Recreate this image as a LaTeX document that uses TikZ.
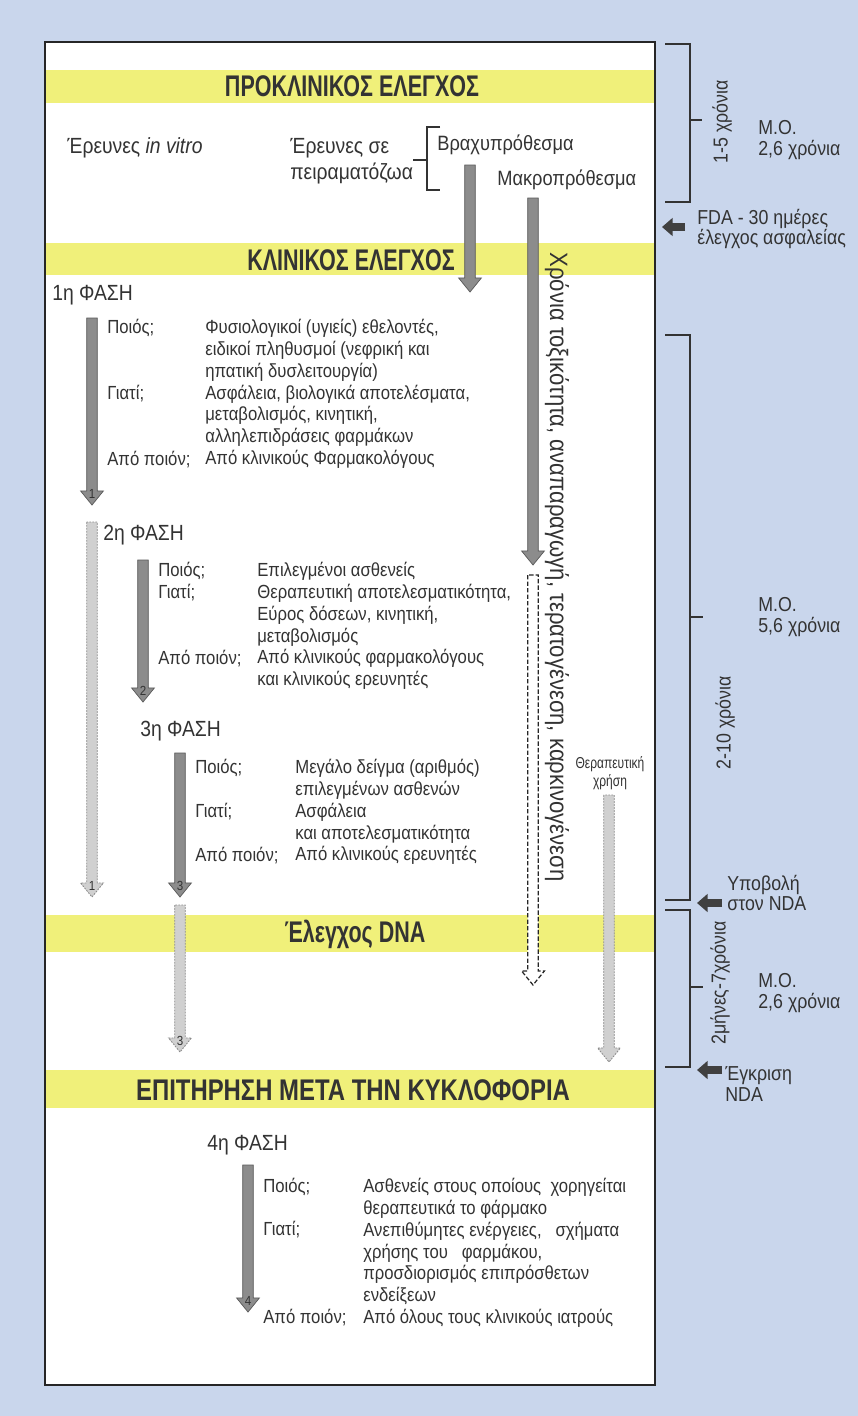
\documentclass[tikz,border=0pt]{standalone}
\usepackage{fontspec}
\setmainfont{Liberation Sans}[FakeStretch=0.88]
\newfontfamily\headfont{Liberation Sans}[FakeStretch=0.72]
\newfontfamily\headwide{Liberation Sans}[FakeStretch=0.80]
\newfontfamily\smallfont{Liberation Sans}[FakeStretch=0.76]
\usetikzlibrary{calc,arrows.meta}

\definecolor{bgblue}{RGB}{201,214,236}
\definecolor{bandyellow}{RGB}{240,240,122}
\definecolor{ink}{RGB}{51,51,51}
\definecolor{shaftgray}{RGB}{140,140,140}
\definecolor{palegray}{RGB}{208,208,208}

\newcommand{\bodyfs}{\fontsize{10.8}{12.4}\selectfont}
\newcommand{\phasefs}{\fontsize{12.5}{14}\selectfont}
\newcommand{\titlefs}{\headfont\bfseries\fontsize{17}{19}\selectfont}
\newcommand{\sidefs}{\fontsize{11.5}{11.5}\selectfont}

\begin{document}
\begin{tikzpicture}[x=0.02cm, y=-0.02cm,
    title/.style={font=\titlefs, text=ink, inner sep=0pt},
    phase/.style={font=\phasefs, text=ink, anchor=west, inner sep=0pt},
    lbl/.style={font=\bodyfs, text=ink, anchor=north west, inner sep=0pt},
    txt/.style={font=\bodyfs, text=ink, anchor=north west, inner sep=0pt, align=left},
    side/.style={font=\sidefs, text=ink, anchor=west, inner sep=0pt, align=left},
    turned/.style={font=\sidefs, text=ink, rotate=90, inner sep=0pt},
    num/.style={font=\fontsize{7.5}{8}\selectfont, text=black!80, inner sep=0pt},
    brk/.style={draw=ink, line width=0.9pt},
    fat/.style={to path={let \p1=(\tikztostart), \p2=(\tikztotarget) in
        (\x1-3pt,\y1) -- (\x1-3pt,\y2+8pt) -- (\x1-6.5pt,\y2+8pt) -- (\x1,\y2)
        -- (\x1+6.5pt,\y2+8pt) -- (\x1+3pt,\y2+8pt) -- (\x1+3pt,\y1) -- cycle}},
    solidarr/.style={fat, fill=shaftgray, draw=black!65, line width=0.4pt},
    lightarr/.style={fat, fill=palegray, draw=black!45, line width=0.5pt, dash pattern=on 1pt off 0.7pt},
    hollowarr/.style={fat, fill=white, draw=black!85, line width=0.7pt, dash pattern=on 2.5pt off 1.2pt},
    leftarr/.style={draw=black!75, line width=4pt, -{Triangle[length=6pt,width=10pt]}}]

  % background, frame and bands
  \fill[bgblue] (0,0) rectangle (858,1416);
  \useasboundingbox (0,0) rectangle (858,1416);
  \draw[fill=white, draw=black!85, line width=1.2pt] (45,42) rectangle (655,1385);
  \foreach \ya/\yb in {70/103, 243/275, 915/952, 1070/1108} {
    \fill[bandyellow] (46,\ya) rectangle (654,\yb);
  }

  \node[title] (preclin) at (352,86)  {ΠΡΟΚΛΙΝΙΚΟΣ ΕΛΕΓΧΟΣ};
  \node[title] (clin)    at (351,260) {ΚΛΙΝΙΚΟΣ ΕΛΕΓΧΟΣ};
  \node[title] (dna)     at (355,934) {Έλεγχος DNA};
  \node[title, font=\headwide\bfseries\fontsize{17}{19}\selectfont] (postm) at (353,1090) {ΕΠΙΤΗΡΗΣΗ ΜΕΤΑ ΤΗΝ ΚΥΚΛΟΦΟΡΙΑ};

  % preclinical part
  \node[phase] (vitro) at (67,148) {Έρευνες \textit{in vitro}};
  \node[phase] (zoa1)  at (290,148) {Έρευνες σε};
  \node[phase] (zoa2)  at (290,174) {πειραματόζωα};
  \draw[brk] (413,160) -- (427,160);
  \draw[brk] (440,127) -- (427,127) -- (427,190) -- (440,190);
  \node[phase, font=\fontsize{11.8}{14}\selectfont] (brachy) at (437,145) {Βραχυπρόθεσμα};
  \node[phase, font=\fontsize{11.8}{14}\selectfont] (makro)  at (497,180) {Μακροπρόθεσμα};

  % phases
  \node[phase] (ph1) at (52,295)   {1η ΦΑΣΗ};
  \node[phase] (ph2) at (103,535)  {2η ΦΑΣΗ};
  \node[phase] (ph3) at (140,731)  {3η ΦΑΣΗ};
  \node[phase] (ph4) at (207,1145) {4η ΦΑΣΗ};

  \foreach \x/\ya/\yb/\yc/\p in {107/319/385/451/1, 158/562/584/650/2, 195/759/803/847/3, 263/1178/1221/1309/4} {
    \node[lbl] (who\p) at (\x,\ya) {Ποιός;};
    \node[lbl] (why\p) at (\x,\yb) {Γιατί;};
    \node[lbl] (by\p)  at (\x,\yc) {Από ποιόν;};
  }

  \node[txt] (txt1) at (205,319) {Φυσιολογικοί (υγιείς) εθελοντές,\\ειδικοί πληθυσμοί (νεφρική και\\ηπατική δυσλειτουργία)\\Ασφάλεια, βιολογικά αποτελέσματα,\\μεταβολισμός, κινητική,\\αλληλεπιδράσεις φαρμάκων\\Από κλινικούς Φαρμακολόγους};
  \node[txt] (txt2) at (257,562) {Επιλεγμένοι ασθενείς\\Θεραπευτική αποτελεσματικότητα,\\Εύρος δόσεων, κινητική,\\μεταβολισμός\\Από κλινικούς φαρμακολόγους\\και κλινικούς ερευνητές};
  \node[txt] (txt3) at (295,759) {Μεγάλο δείγμα (αριθμός)\\επιλεγμένων ασθενών\\Ασφάλεια\\και αποτελεσματικότητα\\Από κλινικούς ερευνητές};
  \node[txt] (txt4) at (363,1178) {Ασθενείς στους οποίους\ \ χορηγείται\\θεραπευτικά το φάρμακο\\Ανεπιθύμητες ενέργειες,\ \ \ σχήματα\\χρήσης του\ \ \ φαρμάκου,\\προσδιορισμός επιπρόσθετων\\ενδείξεων\\Από όλους τους κλινικούς ιατρούς};

  % arrows
  \coordinate (shortA) at (470,165);  \coordinate (shortB) at (470,292);
  \coordinate (longA)  at (533,198);  \coordinate (longB)  at (533,565);
  \coordinate (holA)   at (533,575);  \coordinate (holB)   at (533,985);
  \coordinate (thA)    at (609,795);  \coordinate (thB)    at (609,1062);
  \coordinate (ph1A) at (92,318);   \coordinate (ph1B) at (92,505);
  \coordinate (lt1A) at (92,522);   \coordinate (lt1B) at (92,897);
  \coordinate (ph2A) at (143,560);  \coordinate (ph2B) at (143,702);
  \coordinate (ph3A) at (180,753);  \coordinate (ph3B) at (180,897);
  \coordinate (lt3A) at (180,905);  \coordinate (lt3B) at (180,1052);
  \coordinate (ph4A) at (248,1165); \coordinate (ph4B) at (248,1312);

  \draw[solidarr] (shortA) to (shortB);
  \draw[solidarr] (longA) to (longB);
  \draw[hollowarr] (holA) to (holB);
  \draw[lightarr] (thA) to (thB);
  \draw[solidarr] (ph1A) to (ph1B);
  \draw[lightarr] (lt1A) to (lt1B);
  \draw[solidarr] (ph2A) to (ph2B);
  \draw[solidarr] (ph3A) to (ph3B);
  \draw[lightarr] (lt3A) to (lt3B);
  \draw[solidarr] (ph4A) to (ph4B);

  \foreach \c/\n in {ph1B/1, lt1B/1, ph2B/2, ph3B/3, lt3B/3, ph4B/4} {
    \node[num] (num-\c) at ($(\c)+(0,-11)$) {\n};
  }

  \node[font=\fontsize{14.3}{14}\selectfont, text=ink, rotate=-90, inner sep=0pt] (tox) at (557,567)
    {Χρόνια τοξικότητα, αναπαραγωγή, τερατογένεση, καρκινογένεση};
  \node[font=\smallfont\fontsize{9}{10.5}\selectfont, text=ink, align=center, inner sep=0pt] (ther) at (610,773)
    {Θεραπευτική\\χρήση};

  % time scale on the right
  \draw[brk] (665,44) -- (690,44) -- (690,202) -- (665,202);
  \draw[brk] (690,120) -- (702,120);
  \draw[brk] (665,335) -- (690,335) -- (690,900) -- (665,900);
  \draw[brk] (690,617) -- (703,617);
  \draw[brk] (665,910) -- (690,910) -- (690,1067) -- (665,1067);
  \draw[brk] (690,987) -- (703,987);

  \node[turned] (yr1) at (722,122) {1-5 χρόνια};
  \node[turned] (yr2) at (725,723) {2-10 χρόνια};
  \node[turned] (yr3) at (720,983) {2μήνες-7χρόνια};

  \node[side] (mo1) at (758,140) {Μ.Ο.\\2,6 χρόνια};
  \node[side] (mo2) at (758,617) {Μ.Ο.\\5,6 χρόνια};
  \node[side] (mo3) at (758,993) {Μ.Ο.\\2,6 χρόνια};

  \node[side] (fda)  at (697,229)  {FDA - 30 ημέρες\\έλεγχος ασφαλείας};
  \node[side] (subm) at (727,893)  {Υποβολή\\στον NDA};
  \node[side] (appr) at (725,1084) {Έγκριση\\NDA};

  \coordinate (fdaS) at (685,227);  \coordinate (fdaE) at (662,227);
  \coordinate (subS) at (722,903);  \coordinate (subE) at (697,903);
  \coordinate (appS) at (722,1070); \coordinate (appE) at (697,1070);
  \draw[leftarr] (fdaS) -- (fdaE);
  \draw[leftarr] (subS) -- (subE);
  \draw[leftarr] (appS) -- (appE);
\end{tikzpicture}
\end{document}
